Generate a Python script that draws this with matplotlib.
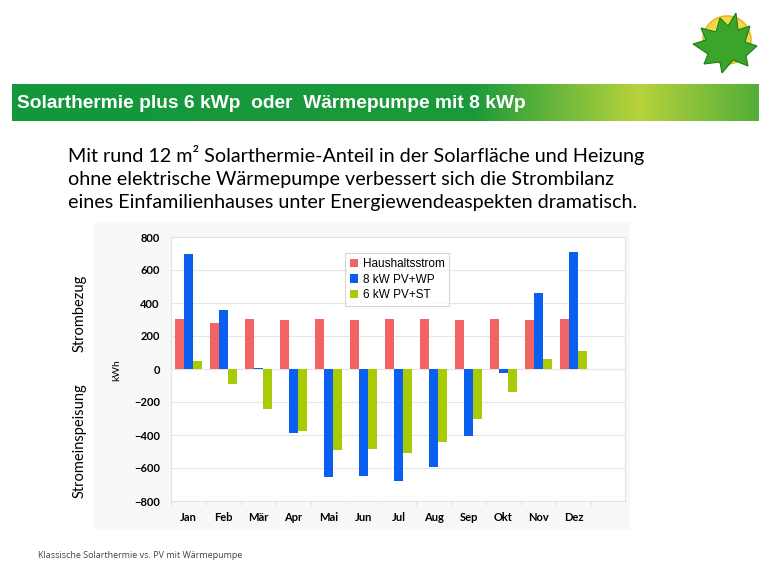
import numpy as np
import matplotlib.pyplot as plt
from matplotlib.colors import LinearSegmentedColormap
from matplotlib.patches import Circle, Polygon, Rectangle

# Monthly values (kWh)
months = ['Jan', 'Feb', 'Mär', 'Apr', 'Mai', 'Jun', 'Jul', 'Aug', 'Sep', 'Okt', 'Nov', 'Dez']
haushalt = [305, 278, 305, 298, 305, 298, 305, 305, 298, 305, 298, 305]
pv_wp = [695, 360, 5, -386, -656, -646, -681, -591, -404, -26, 463, 709]
pv_st = [48, -90, -244, -374, -492, -486, -510, -443, -303, -142, 61, 108]
series_names = ['Haushaltsstrom', '8 kW PV+WP', '6 kW PV+ST']
series_colors = ['#f26464', '#0a5ff0', '#a9cb06']

fig = plt.figure(figsize=(7.68, 5.76), dpi=100)

# Background layer in pixel coordinates for the slide decoration
bg = fig.add_axes([0, 0, 1, 1], zorder=0)
bg.set_xlim(0, 768)
bg.set_ylim(576, 0)
bg.axis('off')

# Green title banner with gradient
grad = LinearSegmentedColormap.from_list(
    'banner', [(0.0, '#12973c'), (0.62, '#1c9a3a'), (0.84, '#b8d33c'), (1.0, '#52ae38')])
bg.imshow(np.linspace(0, 1, 256).reshape(1, -1), cmap=grad, aspect='auto',
          extent=(12, 759, 121, 84), zorder=1)
bg.text(17, 103, 'Solarthermie plus 6 kWp  oder  Wärmepumpe mit 8 kWp',
        color='white', fontsize=13.8, fontweight='bold', family='Liberation Sans',
        va='center', ha='left', zorder=2)

# Logo: sun and maple leaf
bg.add_patch(Circle((727, 40), 24, facecolor='#f5d84a', edgecolor='#e8b820', lw=1.2, zorder=2))
leaf = [(736, 13), (738, 30), (750, 26), (745, 42), (757, 46), (746, 56), (748, 66),
        (733, 60), (722, 73), (720, 62), (704, 64), (708, 54), (693, 44), (706, 40),
        (701, 28), (716, 32), (720, 18), (728, 26)]
bg.add_patch(Polygon(leaf, closed=True, facecolor='#3aa52a', edgecolor='#1e7d1a', lw=0.8, zorder=3))

# Body text
body = ('Mit rund 12 m² Solarthermie-Anteil in der Solarfläche und Heizung\n'
        'ohne elektrische Wärmepumpe verbessert sich die Strombilanz\n'
        'eines Einfamilienhauses unter Energiewendeaspekten dramatisch.')
bg.text(68, 145, body, fontsize=14.2, family='Lato', color='black',
        va='top', ha='left', linespacing=1.42, zorder=2)

# Faint chart panel
bg.add_patch(Rectangle((94, 222), 536, 308, facecolor='#f8f8f8', edgecolor='none', zorder=1))

# Side labels
bg.text(80, 313, 'Strombezug', rotation=90, fontsize=10.5, family='Lato',
        va='center', ha='center', zorder=2)
bg.text(80, 441, 'Stromeinspeisung', rotation=90, fontsize=10.5, family='Lato',
        va='center', ha='center', zorder=2)
bg.text(117, 370, 'kWh', rotation=90, fontsize=7.5, family='Lato',
        va='center', ha='center', zorder=2)

# Footer
bg.text(38, 556, 'Klassische Solarthermie vs. PV mit Wärmepumpe', fontsize=6.5,
        family='Open Sans', color='#444444', va='center', ha='left', zorder=2)

# Chart
ax = fig.add_axes([171 / 768, 1 - 501 / 576, 454 / 768, 264 / 576], zorder=1)
ax.set_facecolor('white')
x = np.arange(len(months))
w = 0.25
for i, (vals, name, col) in enumerate(zip([haushalt, pv_wp, pv_st], series_names, series_colors)):
    ax.bar(x + (i - 1) * w, vals, width=w, color=col, label=name, zorder=3)

ax.set_xlim(-0.5, 12.47)
ax.set_ylim(-800, 800)
ax.set_yticks(range(-800, 801, 200))
ax.set_xticks(x)
ax.set_xticklabels(months)
ax.set_xticks(np.arange(-0.5, 12.0, 1.0), minor=True)
ax.tick_params(axis='x', which='major', length=0, pad=8)
ax.tick_params(axis='x', which='minor', length=3, color='#dddddd')
ax.tick_params(axis='y', length=0, pad=8)
for lab in ax.get_xticklabels() + ax.get_yticklabels():
    lab.set_fontweight('bold')
    lab.set_fontsize(8)
    lab.set_family('Lato')
ax.grid(axis='y', color='#e6e6e6', lw=0.8, zorder=0)
ax.axhline(0, color='#d8d8d8', lw=0.8, zorder=1)
for s in ax.spines.values():
    s.set_color('#e2e2e2')
    s.set_linewidth(0.8)

leg = ax.legend(loc='upper left', bbox_to_anchor=(0.37, 0.96), frameon=True,
                fancybox=False, handlelength=0.7, handleheight=0.7,
                handletextpad=0.4, borderpad=0.4, labelspacing=0.3,
                prop={'family': 'Liberation Sans', 'size': 8.5})
leg.get_frame().set_edgecolor('#cccccc')
leg.get_frame().set_linewidth(0.8)

fig.savefig('out.png', dpi=100)
